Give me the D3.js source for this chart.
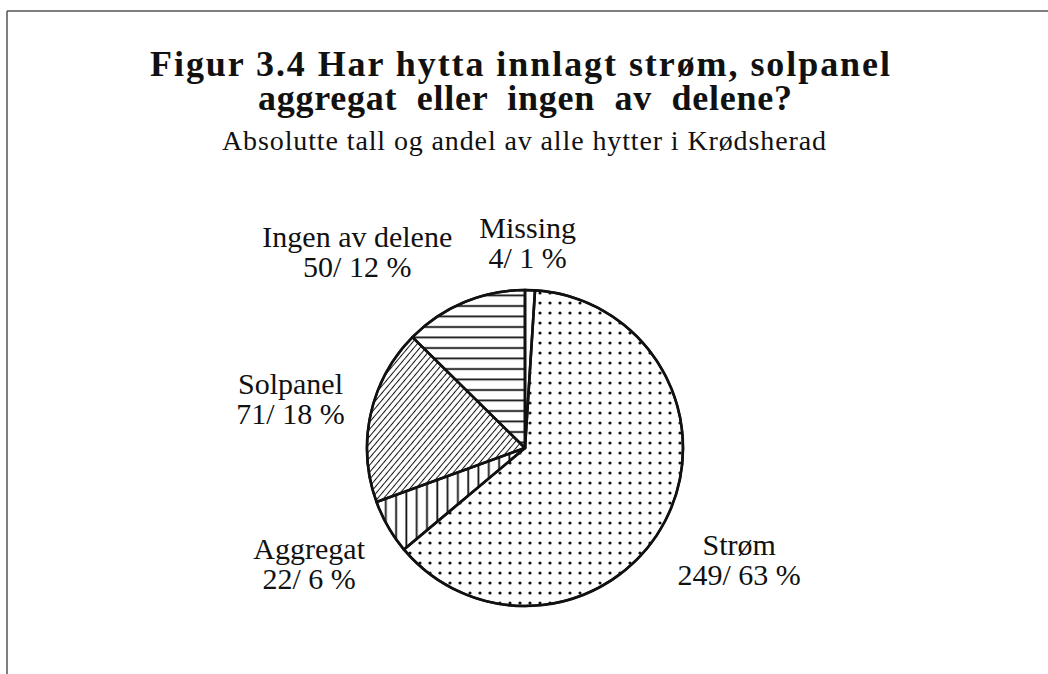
<!DOCTYPE html>
<meta charset="utf-8">
<title>Figur 3.4</title>
<script src="https://d3js.org/d3.v7.min.js"></script>
<style>
body { margin: 0; background: #fff; }
svg { display: block; }
text { font-family: "Liberation Serif", "Times New Roman", serif; fill: #111; }
.title { font-weight: bold; font-size: 36px; white-space: pre; }
.sub { font-size: 28px; }
.lab { font-size: 30px; }
</style>
<body>
<div id="vis"></div>
<script>

// data, clockwise from 12 o'clock
var categories = ["Missing", "Strøm", "Aggregat", "Solpanel", "Ingen av delene"];
var counts = [4, 249, 22, 71, 50];
var percents = [1, 63, 6, 18, 12];
var fills = ["none", "dots", "vlines", "diag", "hlines"];

var width = 1048, height = 674;
var cx = 525, cy = 448, radius = 158;

var svg = d3.select("#vis").append("svg")
  .attr("width", width)
  .attr("height", height);

// frame (top and left rule, as in the scan)
svg.append("line").attr("x1", 7).attr("x2", width).attr("y1", 11).attr("y2", 11)
  .attr("stroke", "#555").attr("stroke-width", 1.5);
svg.append("line").attr("x1", 7).attr("x2", 7).attr("y1", 11).attr("y2", height)
  .attr("stroke", "#555").attr("stroke-width", 1.5);

// patterns
var defs = svg.append("defs");

var dots = defs.append("pattern").attr("id", "dots")
  .attr("patternUnits", "userSpaceOnUse").attr("width", 10).attr("height", 10);
dots.append("circle").attr("cx", 5).attr("cy", 5).attr("r", 1.6).attr("fill", "#111");

var vl = defs.append("pattern").attr("id", "vlines")
  .attr("patternUnits", "userSpaceOnUse").attr("width", 10.3).attr("height", 10);
vl.append("line").attr("x1", 5).attr("x2", 5).attr("y1", 0).attr("y2", 10)
  .attr("stroke", "#111").attr("stroke-width", 1.8);

var hl = defs.append("pattern").attr("id", "hlines")
  .attr("patternUnits", "userSpaceOnUse").attr("width", 10).attr("height", 10.5);
hl.append("line").attr("x1", 0).attr("x2", 10).attr("y1", 5).attr("y2", 5)
  .attr("stroke", "#111").attr("stroke-width", 1.8);

var dg = defs.append("pattern").attr("id", "diag")
  .attr("patternUnits", "userSpaceOnUse").attr("width", 4.6).attr("height", 10)
  .attr("patternTransform", "rotate(40)");
dg.append("line").attr("x1", 2.3).attr("x2", 2.3).attr("y1", 0).attr("y2", 10)
  .attr("stroke", "#111").attr("stroke-width", 1.0);

// titles
svg.append("text").attr("class", "title").attr("x", 150).attr("y", 76)
  .attr("textLength", 740).attr("lengthAdjust", "spacing")
  .text("Figur 3.4 Har hytta innlagt strøm, solpanel");
svg.append("text").attr("class", "title").attr("x", 258).attr("y", 110)
  .attr("textLength", 534).attr("lengthAdjust", "spacing")
  .text("aggregat  eller  ingen  av  delene?");
svg.append("text").attr("class", "sub").attr("x", 222).attr("y", 150)
  .attr("textLength", 604).attr("lengthAdjust", "spacing")
  .text("Absolutte tall og andel av alle hytter i Krødsherad");

// pie
var rows = categories.map(function(c, i) {
  return {name: c, n: counts[i], pct: percents[i], fill: fills[i]};
});

var pie = d3.pie().sort(null).value(function(d) { return d.n; });
var arc = d3.arc().innerRadius(0).outerRadius(radius);
var labelArc = d3.arc().innerRadius(240).outerRadius(240);

var arcs = pie(rows);
var g = svg.append("g").attr("transform", "translate(" + cx + "," + cy + ")");

g.selectAll("path.slice")
  .data(arcs)
  .enter().append("path")
  .attr("class", "slice")
  .attr("d", arc)
  .attr("fill", function(d) { return d.data.fill === "none" ? "#fff" : "url(#" + d.data.fill + ")"; })
  .attr("stroke", "#111")
  .attr("stroke-width", 2.6)
  .attr("stroke-linejoin", "round");

g.append("circle").attr("r", radius).attr("fill", "none")
  .attr("stroke", "#111").attr("stroke-width", 2.4);

// labels pushed out from the slice centroid
var nudge = {"Missing": [-5, 33], "Ingen av delene": [-75, 23], "Aggregat": [-8, -6], "Strøm": [0, 2]};

var lab = g.selectAll("g.lab")
  .data(arcs)
  .enter().append("g")
  .attr("class", "lab")
  .attr("transform", function(d) {
    var p = labelArc.centroid(d), k = nudge[d.data.name] || [0, 0];
    return "translate(" + (p[0] + k[0]) + "," + (p[1] + k[1]) + ")";
  });

lab.append("text").attr("class", "lab").attr("text-anchor", "middle").attr("y", -3)
  .text(function(d) { return d.data.name; });
lab.append("text").attr("class", "lab").attr("text-anchor", "middle").attr("y", 27)
  .text(function(d) { return d.data.n + "/ " + d.data.pct + " %"; });

</script>
</body>
